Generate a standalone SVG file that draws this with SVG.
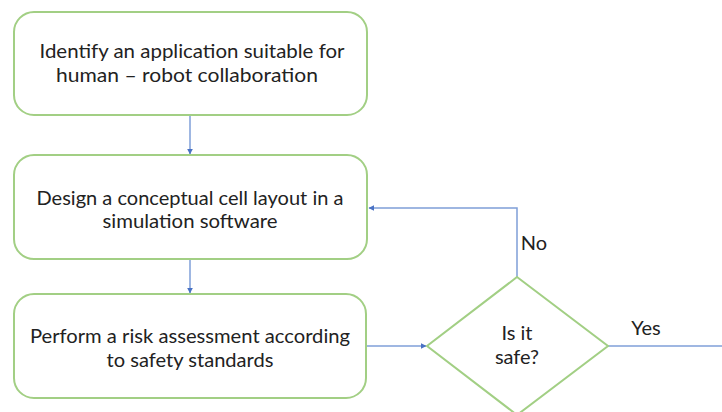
<svg xmlns="http://www.w3.org/2000/svg" width="722" height="412" viewBox="0 0 722 412">
  <style>
    .box { fill: #ffffff; stroke: #a2cf84; stroke-width: 2; }
    .lbl { font-family: Lato, "Open Sans", "Liberation Sans", sans-serif; font-size: 20px; fill: #222222; text-anchor: middle; }
    .edge { fill: none; stroke: #7f9fd8; stroke-width: 1.5; }
  </style>
  <defs>
    <marker id="arrow" viewBox="0 0 10 10" refX="9" refY="5" markerWidth="6" markerHeight="6" orient="auto" markerUnits="userSpaceOnUse">
      <path d="M0,0 L10,5 L0,10 z" fill="#4a72c4"/>
    </marker>
  </defs>
  <rect width="722" height="412" fill="#ffffff"/>

  <g id="connectors">
    <path class="edge" d="M190,115 L190,154" marker-end="url(#arrow)"/>
    <path class="edge" d="M190,259 L190,293" marker-end="url(#arrow)"/>
    <path class="edge" d="M367,346 L426,346" marker-end="url(#arrow)"/>
    <path class="edge" d="M517,277 L517,208 L369,208" marker-end="url(#arrow)"/>
    <path class="edge" d="M608,346 L722,346"/>
    <text class="lbl" x="534" y="250">No</text>
    <text class="lbl" x="646" y="335">Yes</text>
  </g>

  <g id="identify">
    <rect class="box" x="14" y="12" width="353" height="103" rx="20"/>
    <text class="lbl" x="192" y="58" textLength="305" lengthAdjust="spacingAndGlyphs">Identify an application suitable for</text>
    <text class="lbl" x="187" y="82" textLength="262" lengthAdjust="spacingAndGlyphs">human – robot collaboration</text>
  </g>

  <g id="design">
    <rect class="box" x="14" y="155" width="353" height="104" rx="20"/>
    <text class="lbl" x="190" y="205" textLength="307" lengthAdjust="spacingAndGlyphs">Design a conceptual cell layout in a</text>
    <text class="lbl" x="190" y="228" textLength="175" lengthAdjust="spacingAndGlyphs">simulation software</text>
  </g>

  <g id="assess">
    <rect class="box" x="14" y="294" width="352" height="104" rx="20"/>
    <text class="lbl" x="190" y="343" textLength="320" lengthAdjust="spacingAndGlyphs">Perform a risk assessment according</text>
    <text class="lbl" x="190" y="367" textLength="167" lengthAdjust="spacingAndGlyphs">to safety standards</text>
  </g>

  <g id="decision">
    <polygon class="box" points="517,277 608,346 517,415 427,346"/>
    <text class="lbl" x="517" y="340">Is it</text>
    <text class="lbl" x="517" y="364">safe?</text>
  </g>
</svg>
